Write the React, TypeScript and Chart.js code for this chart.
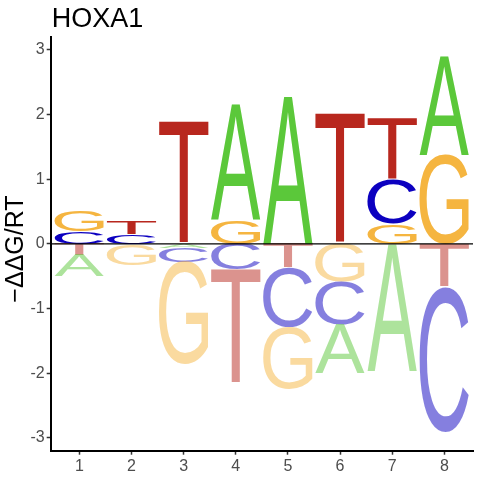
import { Chart, registerables } from "chart.js";
import type { ChartConfiguration, Plugin } from "chart.js";
import React from "react";

Chart.register(...registerables);

// letter scores per position (positive above zero, negative below)
const positions = [1, 2, 3, 4, 5, 6, 7, 8];
const letters = ["A", "C", "G", "T"];
const scoreA = [-0.33, 0, -0.06, 1.79, 2.28, -0.75, -1.96, 1.53];
const scoreC = [0.19, 0.15, -0.23, -0.4, -0.92, -0.67, 0.7, -2.25];
const scoreG = [0.32, -0.33, -1.58, 0.37, -0.96, -0.58, 0.31, 1.38];
const scoreT = [-0.17, 0.19, 1.88, -1.77, -0.37, 2.02, 0.95, -0.66];
const yTicks = [-3, -2, -1, 0, 1, 2, 3];
const letterColors = ["#5bc83a", "#0c00c0", "#f5b540", "#b8271e"];

const titleText = "HOXA1";
const yTitleText = "\u2212\u0394\u0394G/RT";
const axisFont = '"Liberation Sans", Arial, sans-serif';
const letterFont = '100px "Liberation Sans", Arial, sans-serif';

function drawGlyph(
  ctx: CanvasRenderingContext2D,
  letter: string,
  left: number,
  top: number,
  width: number,
  height: number
) {
  const m = ctx.measureText(letter);
  const gw = m.actualBoundingBoxLeft + m.actualBoundingBoxRight;
  const gh = m.actualBoundingBoxAscent + m.actualBoundingBoxDescent;
  if (gw <= 0 || gh <= 0 || height <= 0) return;
  ctx.save();
  ctx.translate(left, top);
  ctx.scale(width / gw, height / gh);
  ctx.fillText(letter, m.actualBoundingBoxLeft, m.actualBoundingBoxAscent);
  ctx.restore();
}

const logoPlugin: Plugin = {
  id: "logo",
  afterDatasetsDraw(chart) {
    const { ctx, chartArea } = chart;
    const xs = chart.scales.x;
    const ys = chart.scales.y;
    const scores = [scoreA, scoreC, scoreG, scoreT];
    ctx.save();
    ctx.font = letterFont;
    ctx.textAlign = "left";
    ctx.textBaseline = "alphabetic";
    positions.forEach((pos, i) => {
      const items = letters
        .map((l, k) => ({ l, k, v: scores[k][i] }))
        .filter((d) => d.v !== 0)
        .sort((a, b) => Math.abs(a.v) - Math.abs(b.v));
      const left = xs.getPixelForValue(pos - 0.475);
      const right = xs.getPixelForValue(pos + 0.475);
      let up = 0;
      let down = 0;
      items.forEach((d) => {
        let lo: number;
        let hi: number;
        if (d.v > 0) {
          lo = up;
          hi = up + d.v;
          up = hi;
        } else {
          hi = down;
          lo = down + d.v;
          down = lo;
        }
        const top = ys.getPixelForValue(hi);
        const bottom = ys.getPixelForValue(lo);
        ctx.fillStyle = letterColors[d.k];
        ctx.globalAlpha = d.v > 0 ? 1 : 0.5;
        drawGlyph(ctx, d.l, left, top, right - left, bottom - top);
      });
    });
    ctx.globalAlpha = 1;
    // zero line
    const y0 = ys.getPixelForValue(0);
    ctx.strokeStyle = "#000";
    ctx.lineWidth = 1.2;
    ctx.beginPath();
    ctx.moveTo(chartArea.left, y0);
    ctx.lineTo(chartArea.right, y0);
    ctx.stroke();
    ctx.restore();
  },
  afterDraw(chart) {
    const { ctx, chartArea } = chart;
    ctx.save();
    ctx.fillStyle = "#000";
    ctx.font = `27px ${axisFont}`;
    ctx.textAlign = "left";
    ctx.textBaseline = "alphabetic";
    ctx.fillText(titleText, chartArea.left + 1, 26.7);
    ctx.translate(16.3, 249);
    ctx.rotate(-Math.PI / 2);
    ctx.font = `25px ${axisFont}`;
    ctx.textAlign = "center";
    ctx.textBaseline = "middle";
    ctx.fillText(yTitleText, 0, 0);
    ctx.restore();
  },
};

export default function App() {
  const canvasRef = React.useRef<HTMLCanvasElement>(null);

  React.useEffect(() => {
    if (canvasRef.current === null) return;
    const config: ChartConfiguration<"scatter"> = {
      type: "scatter",
      data: { datasets: [] },
      options: {
        animation: false,
        responsive: false,
        events: [],
        layout: { padding: { top: 37, right: 7, left: 0, bottom: 0 } },
        plugins: {
          legend: { display: false },
          tooltip: { enabled: false },
        },
        scales: {
          x: {
            type: "linear",
            min: 0.45,
            max: 8.55,
            afterBuildTicks: (s) => {
              s.ticks = positions.map((v) => ({ value: v }));
            },
            afterFit: (s) => {
              s.height = 29.3;
            },
            ticks: {
              callback: (v) => String(v),
              color: "#4d4d4d",
              font: { family: axisFont, size: 16 },
              padding: 2,
              maxRotation: 0,
              autoSkip: false,
            },
            grid: {
              drawOnChartArea: false,
              drawTicks: true,
              tickLength: 4,
              tickColor: "#333333",
              tickWidth: 1.5,
            },
            border: { display: true, color: "#000", width: 2 },
          },
          y: {
            type: "linear",
            min: -3.2,
            max: 3.2,
            afterBuildTicks: (s) => {
              s.ticks = yTicks.map((v) => ({ value: v }));
            },
            afterFit: (s) => {
              s.width = 50.7;
            },
            ticks: {
              callback: (v) => String(v),
              color: "#4d4d4d",
              font: { family: axisFont, size: 16 },
              padding: 2,
              autoSkip: false,
            },
            grid: {
              drawOnChartArea: false,
              drawTicks: true,
              tickLength: 4,
              tickColor: "#333333",
              tickWidth: 1.5,
            },
            border: { display: true, color: "#000", width: 2 },
          },
        },
      },
      plugins: [logoPlugin],
    };
    const chart = new Chart(canvasRef.current, config);
    return () => {
      chart.destroy();
    };
  }, []);

  return (
    <div style={{ position: "fixed", left: 0, top: 0, width: 480, height: 480, background: "#fff" }}>
      <canvas ref={canvasRef} width={480} height={480} />
    </div>
  );
}
